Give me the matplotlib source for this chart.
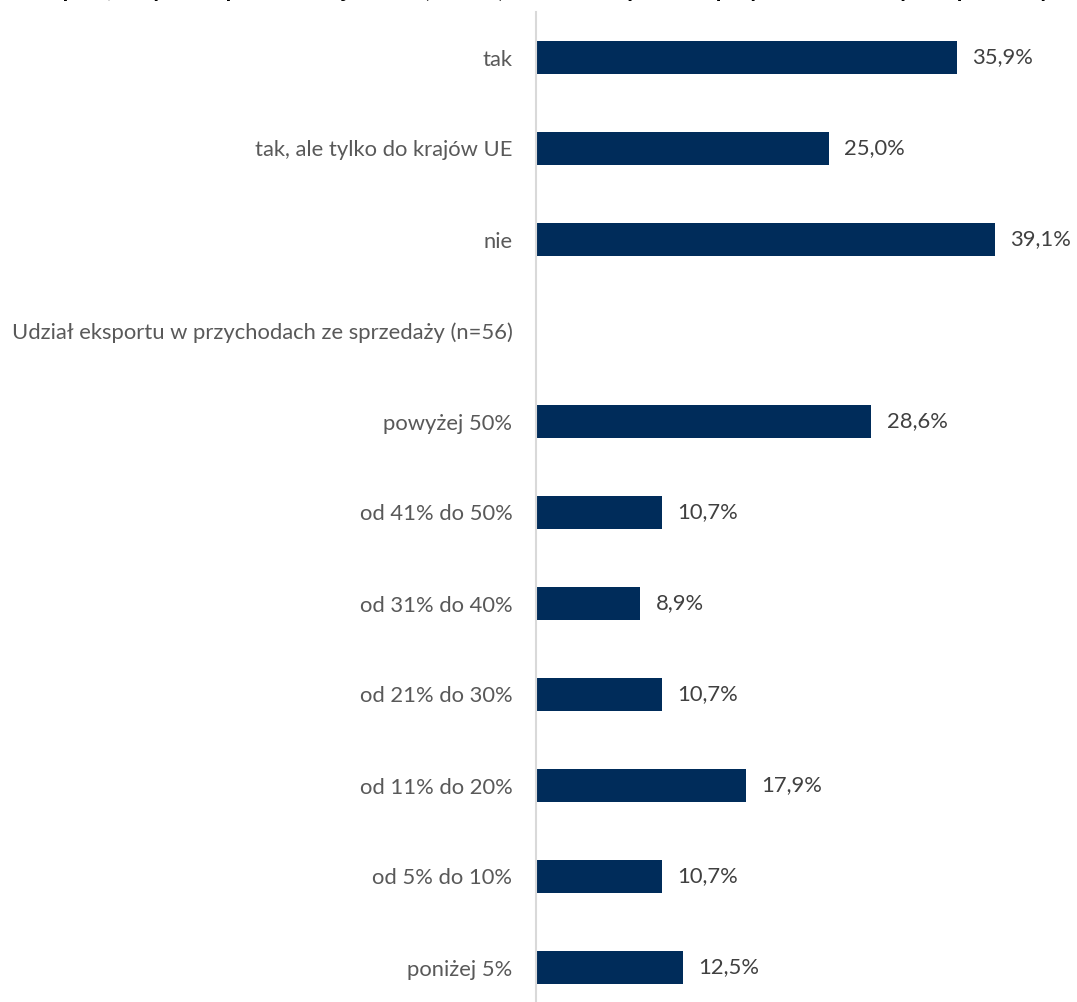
import numpy as np
import matplotlib.pyplot as plt

plt.rcParams['font.family'] = ['Lato', 'DejaVu Sans']

# kategorie od góry do dołu
categories = ['tak', 'tak, ale tylko do krajów UE', 'nie',
              'Udział eksportu w przychodach ze sprzedaży (n=56)',
              'powyżej 50%', 'od 41% do 50%', 'od 31% do 40%', 'od 21% do 30%',
              'od 11% do 20%', 'od 5% do 10%', 'poniżej 5%']
values = [35.9, 25.0, 39.1, np.nan, 28.6, 10.7, 8.9, 10.7, 17.9, 10.7, 12.5]

title = 'Eksport, w tym eksport do krajów UE (n=156) i udział eksportu w przychodach firmy ze sprzedaży'

W, H = 1077, 1002
fig = plt.figure(figsize=(W / 100, H / 100), dpi=100)
ax = fig.add_axes([536 / W, (H - 1013) / H, (W - 536) / W, 1001 / H])

y = np.arange(len(categories))
vals = np.nan_to_num(values)
ax.barh(y, vals, height=0.36, color='#002C5A', left=0)
ax.set_ylim(len(categories) - 0.5, -0.5)
ax.set_xlim(0, (W - 536) / 11.73)

for yi, v in zip(y, values):
    if np.isnan(v):
        continue
    ax.text(v + 1.3, yi, f'{v:.1f}%'.replace('.', ','), va='center', ha='left',
            fontsize=15.8, color='#404040')

ax.set_yticks(y)
ax.set_yticklabels(categories, fontsize=15.8, color='#595959')
ax.tick_params(axis='y', length=0, pad=17)
ax.set_xticks([])
for s in ['top', 'right', 'bottom']:
    ax.spines[s].set_visible(False)
ax.spines['left'].set_color('#d9d9d9')
ax.spines['left'].set_linewidth(1.5)

# tytuł wykresu, przycięty u góry (widoczne tylko dolne końcówki liter)
fig.text(0.5, 1.0 + 3 / H, title, ha='center', va='baseline', fontsize=17,
         fontweight='bold', color='black')

fig.savefig('out.png', dpi=100)
